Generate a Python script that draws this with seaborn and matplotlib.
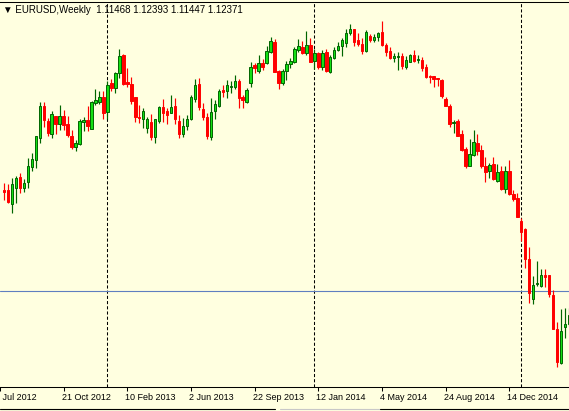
import numpy as np
import pandas as pd
import matplotlib
matplotlib.use('Agg')
import matplotlib.pyplot as plt
import matplotlib.transforms as mtransforms
import seaborn as sns
from matplotlib.lines import Line2D

# MT4 style chart background
sns.set_style('white', {'axes.facecolor': '#ffffe0', 'figure.facecolor': '#ffffe0'})
plt.rcParams['font.family'] = ['Liberation Sans', 'DejaVu Sans']

# weekly EURUSD candles, first bar = week of 8 Jul 2012
opens = [
    1.2269, 1.2269, 1.2126, 1.2289, 1.2402, 1.2289, 1.2351, 1.2504, 1.2575, 1.2799,
    1.3126, 1.2973, 1.2840, 1.3024, 1.2942, 1.3024, 1.2942, 1.2820, 1.2708, 1.2738,
    1.2963, 1.2983, 1.2891, 1.3156, 1.3167, 1.3218, 1.3065, 1.3360, 1.3309, 1.3462,
    1.3646, 1.3371, 1.3350, 1.3218, 1.3014, 1.2993, 1.2901, 1.2963, 1.2810, 1.2973,
    1.3116, 1.3075, 1.3054, 1.3126, 1.2973, 1.2840, 1.2922, 1.2993, 1.3197, 1.3350,
    1.3095, 1.3014, 1.2810, 1.3075, 1.3126, 1.3289, 1.3279, 1.3320, 1.3320, 1.3381,
    1.3218, 1.3167, 1.3360, 1.3544, 1.3483, 1.3564, 1.3564, 1.3677, 1.3779, 1.3483,
    1.3360, 1.3483, 1.3554, 1.3575, 1.3697, 1.3728, 1.3666, 1.3748, 1.3585, 1.3666,
    1.3524, 1.3677, 1.3473, 1.3615, 1.3697, 1.3738, 1.3768, 1.3870, 1.3911, 1.3799,
    1.3758, 1.3687, 1.3840, 1.3799, 1.3830, 1.3881, 1.3748, 1.3687, 1.3615, 1.3626,
    1.3636, 1.3524, 1.3575, 1.3646, 1.3595, 1.3595, 1.3524, 1.3432, 1.3432, 1.3411,
    1.3391, 1.3197, 1.3126, 1.2952, 1.2973, 1.2840, 1.2687, 1.2514, 1.2626, 1.2748,
    1.2677, 1.2514, 1.2463, 1.2534, 1.2361, 1.2463, 1.2279, 1.2463, 1.2228, 1.2187,
    1.1953, 1.1871, 1.1565, 1.1157, 1.1310, 1.1290, 1.1402, 1.1402, 1.1198, 1.0851,
    1.0504, 1.0872, 1.0902]
highs = [
    1.2341, 1.2330, 1.2391, 1.2412, 1.2442, 1.2381, 1.2595, 1.2646, 1.2820, 1.3167,
    1.3167, 1.3003, 1.3075, 1.3024, 1.3136, 1.3085, 1.3024, 1.2881, 1.2779, 1.2993,
    1.3014, 1.3126, 1.3177, 1.3299, 1.3279, 1.3279, 1.3381, 1.3401, 1.3473, 1.3707,
    1.3656, 1.3513, 1.3422, 1.3218, 1.3136, 1.3105, 1.3014, 1.3044, 1.2993, 1.3126,
    1.3197, 1.3105, 1.3238, 1.3207, 1.3034, 1.3003, 1.3034, 1.3238, 1.3401, 1.3411,
    1.3156, 1.3054, 1.3207, 1.3187, 1.3299, 1.3340, 1.3391, 1.3381, 1.3442, 1.3401,
    1.3238, 1.3309, 1.3575, 1.3564, 1.3646, 1.3605, 1.3738, 1.3830, 1.3809, 1.3493,
    1.3503, 1.3585, 1.3615, 1.3728, 1.3809, 1.3789, 1.3891, 1.3819, 1.3707, 1.3677,
    1.3697, 1.3707, 1.3646, 1.3728, 1.3779, 1.3819, 1.3911, 1.3962, 1.3911, 1.3870,
    1.3819, 1.3901, 1.3860, 1.3860, 1.3881, 1.3993, 1.3768, 1.3728, 1.3666, 1.3677,
    1.3666, 1.3636, 1.3656, 1.3697, 1.3646, 1.3626, 1.3554, 1.3442, 1.3432, 1.3411,
    1.3401, 1.3218, 1.3146, 1.2983, 1.2993, 1.2881, 1.2708, 1.2789, 1.2881, 1.2840,
    1.2728, 1.2606, 1.2544, 1.2606, 1.2534, 1.2514, 1.2514, 1.2575, 1.2269, 1.2238,
    1.1983, 1.1881, 1.1688, 1.1392, 1.1545, 1.1463, 1.1463, 1.1402, 1.1249, 1.0923,
    1.1055, 1.1065, 1.1065]
lows = [
    1.2167, 1.2136, 1.2035, 1.2136, 1.2238, 1.2249, 1.2289, 1.2463, 1.2493, 1.2748,
    1.2912, 1.2820, 1.2799, 1.2840, 1.2881, 1.2881, 1.2810, 1.2687, 1.2667, 1.2728,
    1.2871, 1.2871, 1.2891, 1.3136, 1.3146, 1.2993, 1.2993, 1.3279, 1.3258, 1.3411,
    1.3340, 1.3320, 1.3146, 1.2963, 1.2952, 1.2901, 1.2850, 1.2779, 1.2748, 1.2952,
    1.2963, 1.2942, 1.3054, 1.2942, 1.2799, 1.2810, 1.2881, 1.2983, 1.3167, 1.3085,
    1.2983, 1.2789, 1.2779, 1.2993, 1.3116, 1.3218, 1.3207, 1.3258, 1.3299, 1.3105,
    1.3105, 1.3156, 1.3320, 1.3462, 1.3462, 1.3493, 1.3554, 1.3666, 1.3473, 1.3299,
    1.3340, 1.3391, 1.3513, 1.3564, 1.3677, 1.3656, 1.3646, 1.3575, 1.3503, 1.3503,
    1.3493, 1.3473, 1.3462, 1.3605, 1.3687, 1.3636, 1.3728, 1.3850, 1.3738, 1.3738,
    1.3656, 1.3677, 1.3779, 1.3779, 1.3789, 1.3738, 1.3636, 1.3605, 1.3575, 1.3493,
    1.3503, 1.3503, 1.3575, 1.3575, 1.3564, 1.3483, 1.3411, 1.3360, 1.3320, 1.3330,
    1.3207, 1.3126, 1.2912, 1.2850, 1.2820, 1.2667, 1.2493, 1.2514, 1.2616, 1.2626,
    1.2493, 1.2351, 1.2391, 1.2371, 1.2351, 1.2269, 1.2238, 1.2218, 1.2157, 1.1994,
    1.1749, 1.1474, 1.1116, 1.1106, 1.1290, 1.1280, 1.1280, 1.1178, 1.0851, 1.0464,
    1.0494, 1.0763, 1.0882]
closes = [
    1.2249, 1.2147, 1.2330, 1.2391, 1.2289, 1.2341, 1.2514, 1.2585, 1.2820, 1.3126,
    1.2983, 1.2850, 1.3044, 1.2942, 1.3024, 1.2932, 1.2830, 1.2708, 1.2748, 1.2973,
    1.2983, 1.2922, 1.3167, 1.3187, 1.3218, 1.3054, 1.3340, 1.3309, 1.3462, 1.3636,
    1.3350, 1.3350, 1.3177, 1.3014, 1.3003, 1.3075, 1.2993, 1.2810, 1.2993, 1.3116,
    1.3054, 1.3034, 1.3116, 1.2993, 1.2840, 1.2922, 1.2993, 1.3218, 1.3340, 1.3116,
    1.3014, 1.2820, 1.3065, 1.3146, 1.3279, 1.3269, 1.3340, 1.3330, 1.3381, 1.3207,
    1.3187, 1.3289, 1.3524, 1.3513, 1.3564, 1.3524, 1.3687, 1.3789, 1.3473, 1.3360,
    1.3483, 1.3554, 1.3585, 1.3707, 1.3738, 1.3666, 1.3748, 1.3575, 1.3666, 1.3524,
    1.3666, 1.3483, 1.3626, 1.3697, 1.3738, 1.3799, 1.3870, 1.3911, 1.3779, 1.3758,
    1.3687, 1.3881, 1.3799, 1.3830, 1.3870, 1.3748, 1.3677, 1.3615, 1.3636, 1.3636,
    1.3534, 1.3595, 1.3646, 1.3585, 1.3605, 1.3513, 1.3422, 1.3422, 1.3401, 1.3401,
    1.3228, 1.3126, 1.2942, 1.2963, 1.2820, 1.2677, 1.2514, 1.2636, 1.2759, 1.2667,
    1.2514, 1.2453, 1.2524, 1.2381, 1.2453, 1.2279, 1.2463, 1.2228, 1.2177, 1.1994,
    1.1841, 1.1565, 1.1218, 1.1300, 1.1320, 1.1402, 1.1382, 1.1208, 1.0851, 1.0515,
    1.0831, 1.0902, 1.0994]

header = '\u25bc EURUSD,Weekly  1.11468 1.12393 1.11447 1.12371'
bid = 1.12371

tick_dates = ['2012-07-01', '2012-10-21', '2013-02-10', '2013-06-02', '2013-09-22',
              '2014-01-12', '2014-05-04', '2014-08-24', '2014-12-14']
tick_labels = ['1 Jul 2012', '21 Oct 2012', '10 Feb 2013', '2 Jun 2013', '22 Sep 2013',
               '12 Jan 2014', '4 May 2014', '24 Aug 2014', '14 Dec 2014']
year_breaks = ['2013-01-06', '2014-01-05', '2015-01-04']

origin = pd.Timestamp('2012-07-01')


def week_pos(d):
    return (pd.Timestamp(d) - origin).days // 7


weeks = pd.date_range('2012-07-08', periods=len(opens), freq='W-SUN')
x = np.array([week_pos(w) for w in weeks])
o = np.array(opens)
h = np.array(highs)
l = np.array(lows)
c = np.array(closes)
up = c >= o

up_fill = '#14e014'
up_edge = '#006400'
dn = '#ff0000'

fig = plt.figure(figsize=(5.69, 4.11), dpi=100)
ax = fig.add_axes([0, 24 / 411, 1, 385 / 411])

# period separators and bid line
for d in year_breaks:
    ax.axvline(week_pos(d), color='black', lw=0.75, ls=(0, (3, 2)), zorder=1)
ax.axhline(bid, color='#5f7fc0', lw=0.8, zorder=1.5)

# wicks
ax.vlines(x[up], l[up], h[up], color=up_edge, lw=0.85, zorder=2)
ax.vlines(x[~up], l[~up], h[~up], color=dn, lw=0.85, zorder=2)
# bodies
ax.bar(x[up], c[up] - o[up], bottom=o[up], width=0.62,
       color=up_fill, edgecolor=up_edge, linewidth=0.7, zorder=3)
ax.bar(x[~up], o[~up] - c[~up], bottom=c[~up], width=0.62,
       color=dn, edgecolor=dn, linewidth=0.7, zorder=3)

ax.set_xlim(0.75, 143.0)
ax.set_ylim(1.0260, 1.4187)
ax.set_yticks([])
ax.set_xticks([week_pos(d) for d in tick_dates])
ax.set_xticklabels(tick_labels, fontsize=6.5, ha='left')
ax.tick_params(axis='x', bottom=True, direction='out', length=3,
               width=0.75, pad=1.5, colors='black')
# nudge labels left so they start at the tick mark
for i, lab in enumerate(ax.get_xticklabels()):
    dx = -5 if i == 0 else -2
    lab.set_transform(lab.get_transform() + mtransforms.ScaledTranslation(dx / 100, 0, fig.dpi_scale_trans))
for side in ['left', 'right']:
    ax.spines[side].set_visible(False)
for side in ['top', 'bottom']:
    ax.spines[side].set_color('black')
    ax.spines[side].set_linewidth(0.75)

fig.text(3 / 569, 1 - 10 / 411, header, fontsize=7, va='center', ha='left', color='black')

# window bottom border
yb = 2.5 / 411
fig.add_artist(Line2D([0, 275 / 569], [yb, yb], color='black', lw=0.8))
fig.add_artist(Line2D([280 / 569, 380 / 569], [yb, yb], color='#c8c8c8', lw=0.8))
fig.add_artist(Line2D([380 / 569, 1], [yb, yb], color='black', lw=0.8))

fig.savefig('out.png', dpi=100)
